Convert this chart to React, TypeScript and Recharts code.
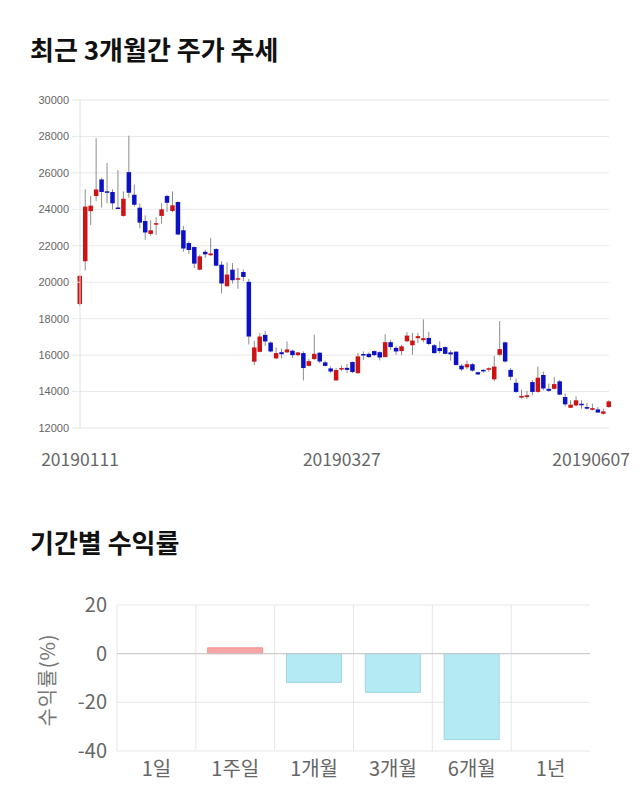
import React from "react";
import {
  ComposedChart,
  BarChart,
  Bar,
  XAxis,
  YAxis,
  CartesianGrid,
  Cell,
  ReferenceLine,
} from "recharts";

// 최근 3개월간 주가 (일봉)
const dates = [
  "20190111", "20190114", "20190115", "20190116", "20190117", "20190118", "20190121", "20190122",
  "20190123", "20190124", "20190125", "20190128", "20190129", "20190130", "20190131",
  "20190207", "20190208", "20190211", "20190212", "20190213", "20190214", "20190215", "20190218",
  "20190219", "20190220", "20190221", "20190222", "20190225", "20190226", "20190227", "20190228",
  "20190304", "20190305", "20190306", "20190307", "20190308", "20190311", "20190312", "20190313",
  "20190314", "20190315", "20190318", "20190319", "20190320", "20190321", "20190322", "20190325",
  "20190326", "20190327", "20190328", "20190329",
  "20190401", "20190402", "20190403", "20190404", "20190405", "20190408", "20190409", "20190410",
  "20190411", "20190412", "20190415", "20190416", "20190417", "20190418", "20190419", "20190422",
  "20190423", "20190424", "20190425", "20190426", "20190429", "20190430",
  "20190502", "20190503", "20190507", "20190508", "20190509", "20190510", "20190513", "20190514",
  "20190515", "20190516", "20190517", "20190520", "20190521", "20190522", "20190523", "20190524",
  "20190527", "20190528", "20190529", "20190530", "20190531",
  "20190603", "20190604", "20190605", "20190607",
];

const opens = [
  18800, 21150, 23900, 24730, 25640, 24990, 24950, 24100, 23640, 26040,
  24800, 24090, 23360, 22650, 23200, 23640, 24730, 23910, 24400, 22850,
  22150, 21930, 20690, 21670, 21480, 21820, 20960, 19780, 20690, 20180,
  20560, 20020, 15640, 16180, 17110, 16690, 15820, 16160, 16150, 16240,
  16000, 16110, 15410, 15780, 16130, 15600, 15270, 14610, 15230, 15300,
  15620, 15010, 16060, 16070, 16220, 16160, 15890, 16710, 16400, 16220,
  16760, 16540, 16930, 16820, 16940, 16540, 16390, 16440, 16150, 16190,
  15420, 15330, 15500, 15060, 15190, 15220, 14670, 16020, 16700, 15190,
  14480, 13670, 13700, 14520, 13980, 14910, 14150, 14150, 14560, 13700,
  13110, 13240, 13330, 13150, 13000, 13020, 12780, 13150,
];

const highs = [
  20400, 25100, 24730, 27900, 25730, 26550, 25100, 26150, 24980, 28040,
  25360, 24330, 23670, 23400, 23550, 24330, 24800, 24980, 24450, 23090,
  22250, 21960, 21510, 21780, 22420, 21870, 21150, 21090, 21050, 20780,
  20690, 20180, 16780, 17200, 17330, 16750, 16420, 16360, 16750, 16290,
  16160, 16200, 15780, 17120, 16160, 15690, 15380, 15290, 15430, 15510,
  15650, 16110, 16200, 16150, 16260, 16200, 17150, 16840, 16480, 16570,
  17260, 17220, 17220, 17960, 17280, 16610, 16760, 16480, 16260, 16200,
  15500, 15700, 15560, 15090, 15220, 15330, 15960, 17870, 16740, 15280,
  14720, 14110, 14040, 14630, 15370, 15100, 14440, 14810, 14630, 13890,
  13520, 13740, 13520, 13370, 13330, 13150, 13060, 13520,
];

const lows = [
  18700, 20650, 23130, 24450, 24100, 24330, 24000, 24030, 23600, 24640,
  24150, 22960, 22330, 22550, 22580, 23220, 23850, 23850, 22580, 21670,
  21560, 20780, 20650, 21330, 21450, 20870, 19380, 19750, 19930, 19640,
  20050, 16580, 15460, 16150, 16510, 16150, 15780, 15820, 16110, 15850,
  15930, 14610, 15380, 15740, 15560, 15380, 15010, 14590, 15140, 15010,
  15010, 14980, 15740, 15850, 15930, 15710, 15890, 16290, 16020, 16000,
  16700, 16020, 16670, 16700, 16540, 16070, 16090, 16050, 15700, 15420,
  15130, 15220, 15090, 14910, 15030, 15090, 14570, 15930, 15590, 14630,
  13930, 13610, 13590, 13800, 13940, 14070, 13980, 14110, 13800, 13190,
  13090, 13190, 13060, 13000, 12960, 12810, 12740, 13110,
];

const closes = [
  20350, 24150, 24200, 25090, 24950, 24950, 24330, 24050, 24580, 24910,
  24250, 23270, 22730, 22850, 23240, 24000, 24360, 24220, 22620, 21850,
  21770, 21020, 21420, 21530, 21580, 20910, 19930, 20420, 20110, 20220,
  20290, 17020, 16420, 17020, 16750, 16200, 16110, 16050, 16310, 16000,
  16150, 15290, 15670, 16070, 15650, 15410, 15100, 15180, 15290, 15190,
  15070, 15930, 16000, 15890, 16000, 15870, 16710, 16440, 16200, 16480,
  17070, 16800, 17040, 16930, 16610, 16110, 16220, 16070, 16040, 15460,
  15220, 15500, 15150, 14940, 15130, 15280, 15370, 16330, 15650, 14810,
  13980, 13760, 13800, 13980, 14760, 14170, 14040, 14410, 13830, 13300,
  13280, 13520, 13260, 13060, 13090, 12850, 12910, 13460,
];

const dateTickIndex = [0, 48, 97];
const priceTicks = [12000, 14000, 16000, 18000, 20000, 22000, 24000, 26000, 28000, 30000];

// 기간별 수익률
const periods = ["1일", "1주일", "1개월", "3개월", "6개월", "1년"];
const returns = [null, 2.4, -11.8, -15.9, -35.3, null];
const returnTicks = [-40, -20, 0, 20];

const candleData = dates.map((date, i) => ({
  i,
  date,
  open: opens[i],
  high: highs[i],
  low: lows[i],
  close: closes[i],
  range: [lows[i], highs[i]],
}));

const returnData = periods.map((period, i) => ({ period, value: returns[i] }));

const FONT = "'Noto Sans CJK KR', 'Noto Sans', sans-serif";

function Candle(props: any) {
  const { x, y, width, height, payload } = props;
  if (x == null || y == null) return null;
  const top = Math.min(y, y + height);
  const bottom = Math.max(y, y + height);
  const { open, close, high, low } = payload;
  const span = high - low || 1;
  const toY = (v: number) => top + ((high - v) / span) * (bottom - top);
  const cx = x + width / 2;
  const up = close >= open;
  const bodyTop = toY(Math.max(open, close));
  const bodyBottom = toY(Math.min(open, close));
  return (
    <g>
      <line x1={cx} x2={cx} y1={top} y2={bottom} stroke="#8c8c8c" strokeWidth={1} />
      <rect
        x={cx - 2.25}
        y={bodyTop}
        width={4.5}
        height={Math.max(bodyBottom - bodyTop, 1.5)}
        fill={up ? "#cc1414" : "#0c12c4"}
      />
    </g>
  );
}

function DateTick(props: any) {
  const { x, y, payload } = props;
  const isLast = payload.value === dateTickIndex[dateTickIndex.length - 1];
  return (
    <text
      x={isLast ? x + 21 : x}
      y={y + 38}
      textAnchor={isLast ? "end" : "middle"}
      fontSize={17.5}
      fill="#666"
      fontFamily={FONT}
    >
      {dates[payload.value]}
    </text>
  );
}

const titleStyle: React.CSSProperties = {
  position: "absolute",
  left: 30,
  fontFamily: FONT,
  fontWeight: 700,
  fontSize: 26,
  lineHeight: "26px",
  color: "#111",
  whiteSpace: "nowrap",
};

export default function App() {
  return (
    <div style={{ position: "absolute", left: 0, top: 0, width: 640, height: 810, background: "#fff" }}>
      <div style={{ ...titleStyle, top: 36 }}>최근 3개월간 주가 추세</div>

      <div style={{ position: "absolute", left: 0, top: 0 }}>
        <ComposedChart
          width={640}
          height={480}
          data={candleData}
          margin={{ top: 100, right: 31, bottom: 22, left: 8 }}
        >
          <CartesianGrid vertical={false} stroke="#e8e8e8" />
          <XAxis
            dataKey="i"
            type="number"
            domain={[0, 97]}
            ticks={dateTickIndex}
            interval={0}
            tick={<DateTick />}
            axisLine={false}
            tickLine={false}
            tickSize={0}
            tickMargin={0}
            height={30}
          />
          <YAxis
            domain={[12000, 30000]}
            ticks={priceTicks}
            interval={0}
            width={72}
            tickSize={8}
            tickMargin={3}
            tick={{ fontSize: 11, fill: "#666", fontFamily: "'Liberation Sans', Arial, sans-serif" }}
            axisLine={{ stroke: "#e2e2e2" }}
            tickLine={{ stroke: "#e8e8e8" }}
          />
          <Bar dataKey="range" barSize={5} shape={<Candle />} isAnimationActive={false} />
        </ComposedChart>
      </div>

      <div style={{ ...titleStyle, top: 529 }}>기간별 수익률</div>

      <div style={{ position: "absolute", left: 0, top: 560 }}>
        <BarChart
          width={640}
          height={250}
          data={returnData}
          margin={{ top: 45, right: 50, bottom: 19, left: 20 }}
          barCategoryGap="15%"
        >
          <CartesianGrid
            stroke="#e6e6e6"
            verticalCoordinatesGenerator={({ offset }: any) =>
              periods.map((_, k) => offset.left + (k * offset.width) / periods.length)
            }
          />
          <XAxis
            dataKey="period"
            tick={{ fontSize: 20, fill: "#666", fontFamily: FONT }}
            axisLine={false}
            tickLine={false}
            tickSize={0}
            tickMargin={11}
            height={40}
          />
          <YAxis
            domain={[-40, 20]}
            ticks={returnTicks}
            interval={0}
            width={97}
            tick={{ fontSize: 20, fill: "#666", fontFamily: FONT }}
            axisLine={false}
            tickLine={false}
            tickSize={0}
            tickMargin={10}
            label={{
              content: () => (
                <text
                  x={46}
                  y={120}
                  transform="rotate(-90 46 120)"
                  textAnchor="middle"
                  dominantBaseline="central"
                  fontSize={20}
                  letterSpacing={1}
                  fill="#777"
                  fontFamily={FONT}
                >
                  수익률(%)
                </text>
              ),
            }}
          />
          <ReferenceLine y={0} stroke="#c8c8c8" />
          <Bar dataKey="value" isAnimationActive={false}>
            {returnData.map((d, i) => (
              <Cell
                key={`cell-${i}`}
                fill={(d.value ?? 0) >= 0 ? "#f7a6a6" : "#b3eaf3"}
                stroke={(d.value ?? 0) >= 0 ? "#f29090" : "#9ed6e2"}
              />
            ))}
          </Bar>
        </BarChart>
      </div>
    </div>
  );
}
